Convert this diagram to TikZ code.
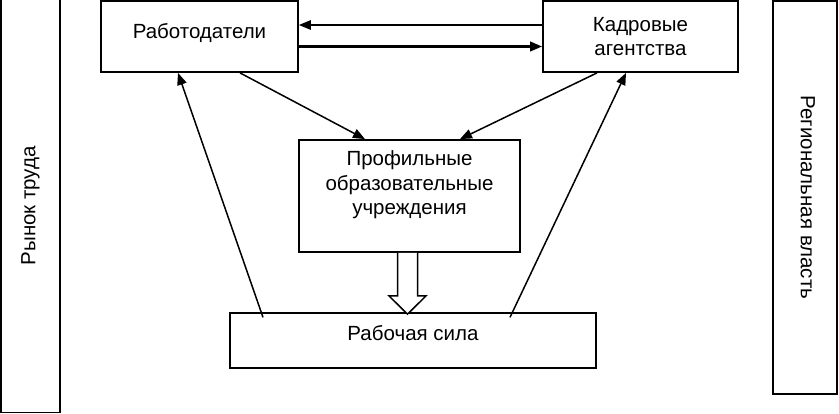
\documentclass[tikz,border=0pt]{standalone}
\usepackage{fontspec}
\setmainfont{Liberation Sans}
\usetikzlibrary{arrows.meta,positioning}

\begin{document}
\begin{tikzpicture}[x=1pt,y=-1pt,
	box/.style={draw, line width=1.8pt, inner sep=0pt, align=center,
		font=\fontsize{20.5}{24.5}\selectfont},
	link/.style={-{Triangle[length=12pt,width=9.5pt]}, line width=1.5pt}]
	\useasboundingbox (0,0) rectangle (839,414);
	% side boxes
	\node[box, rotate=90, minimum width=413.5pt, minimum height=59pt] (market) at (30.5,205.75) {Рынок труда};
	\node[box, rotate=-90, minimum width=393pt, minimum height=64pt, text depth=6pt] (power) at (805,197.5) {Региональная власть};
	% main boxes
	\node[box, minimum width=197pt, minimum height=71pt, text depth=11pt] (emp) at (199.5,36.5) {Работодатели};
	\node[box, minimum width=195pt, minimum height=71pt] (agn) at (640.5,36.5) {Кадровые\\агентства};
	\node[box, minimum width=221pt, minimum height=112pt, text depth=26pt] (prof) at (409.5,196) {Профильные\\образовательные\\учреждения};
	\node[box, minimum width=366pt, minimum height=55pt, text depth=14pt] (work) at (413,340.25) {Рабочая сила};
	% links
	\draw[link] ([yshift=11.5pt]agn.west) -- ([yshift=11.5pt]emp.east);
	\draw[link, line width=2.4pt] ([yshift=-10pt]emp.east) -- ([yshift=-10pt]agn.west);
	\draw[link] ([xshift=40.5pt]emp.south) -- ([xshift=-44.5pt]prof.north);
	\draw[link] ([xshift=-43.5pt]agn.south) -- ([xshift=50.5pt]prof.north);
	\draw[link] ([xshift=-150pt,yshift=-5.5pt]work.north) -- ([xshift=-21.5pt]emp.south);
	\draw[link] ([xshift=97pt,yshift=-5.5pt]work.north) -- ([xshift=-14.5pt]agn.south);
	% hollow arrow
	\draw[line width=1.5pt, fill=white] ([xshift=-12pt]prof.south) -- ++(0,43) -- ++(-8.5,0)
		-- ++(18.5,18.25) -- ++(18.5,-18.25) -- ++(-8.5,0) -- ([xshift=8pt]prof.south);
\end{tikzpicture}
\end{document}
